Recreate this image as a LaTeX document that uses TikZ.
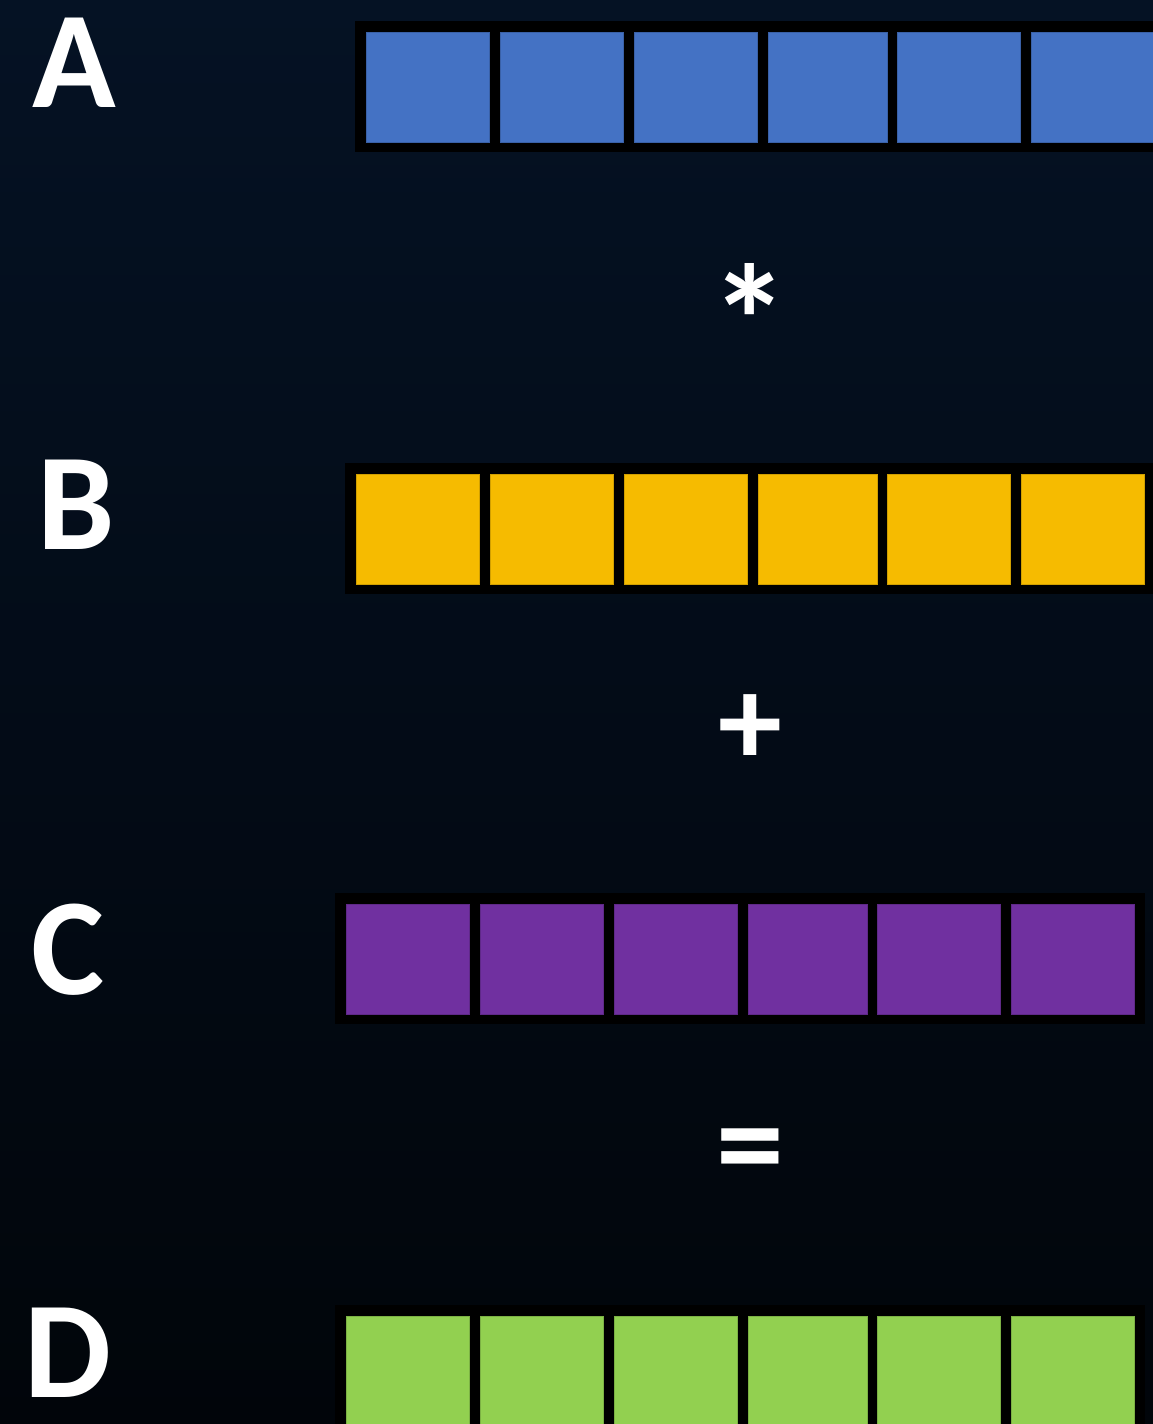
\documentclass[tikz,border=0pt]{standalone}
\usepackage{fontspec}
\setmainfont{Carlito}
\definecolor{bgtop}{RGB}{5,18,36}
\definecolor{bgbot}{RGB}{1,5,10}
\definecolor{cblue}{RGB}{68,114,196}
\definecolor{cyellow}{RGB}{246,187,0}
\definecolor{cpurple}{RGB}{112,48,160}
\definecolor{cgreen}{RGB}{146,208,80}
\begin{document}
\begin{tikzpicture}[x=1pt,y=-1pt,
  lettr/.style={text=white,font=\bfseries\fontsize{138}{138}\selectfont,inner sep=0,anchor=base},
  oper/.style={text=white,font=\bfseries\fontsize{#1}{#1}\selectfont,inner sep=0},
  frame/.style={fill=black,draw=none,inner sep=0,outer sep=0,anchor=north west,minimum width=810pt,minimum height=131pt},
  cell/.style={fill=#1,draw=#1!85!black,line width=0.8pt,inner sep=0,outer sep=0,anchor=north west,minimum height=110pt}
]
\useasboundingbox (0,0) rectangle (1153,1424);
\clip (0,0) rectangle (1153,1424);
\fill[top color=bgtop,bottom color=bgbot] (0,0) rectangle (1153,1424);

% letters
\node[lettr] (lA) at (74.5,107) {A};
\node[lettr] (lB) at (76.5,549) {B};
\node[lettr] (lC) at (68,994) {C};
\node[lettr] (lD) at (67.5,1397) {D};

% operators
\node[oper=158] (opmul) at (750,320) {*};
\node[oper=128] (opadd) at (750,730) {+};
\node[oper=136] (opeq) at (750,1159) {=};

% rows
\foreach \row/\L/\T/\col in {A/355/21/cblue, B/345/463/cyellow, C/335/893/cpurple, D/335/1305/cgreen}{
  \node[frame] (\row-frame) at (\L,\T) {};
  \foreach \i/\dx/\w in {1/11/123, 2/145/123, 3/279/123, 4/413/119, 5/542/123, 6/676/123}{
    \node[cell=\col,minimum width=\w pt] (\row-\i) at (\L+\dx,\T+11) {};
  }
}
\end{tikzpicture}
\end{document}
